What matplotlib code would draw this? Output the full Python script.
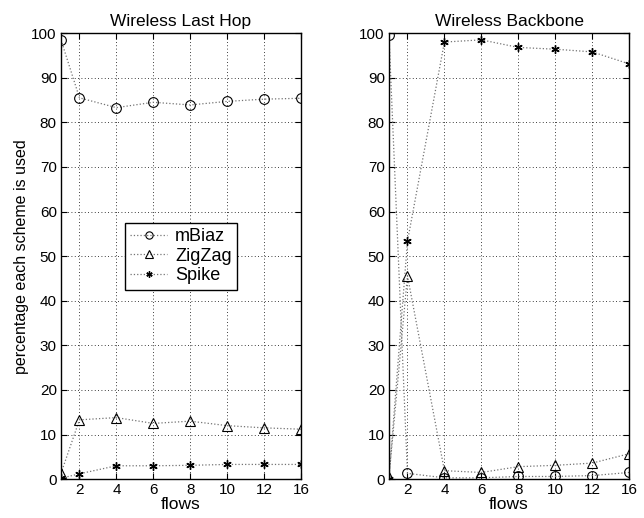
import matplotlib
matplotlib.use("Agg")
import matplotlib.pyplot as plt

plt.rcParams['font.family'] = ['Liberation Sans', 'DejaVu Sans']

# data
flows = [1, 2, 4, 6, 8, 10, 12, 16]
xpos = [1, 2, 4, 6, 8, 10, 12, 14]   # 16 is drawn where 14 would be
tick_pos = [2, 4, 6, 8, 10, 12, 14]
tick_labels = ['2', '4', '6', '8', '10', '12', '16']

lasthop_mbiaz = [98.5, 85.5, 83.3, 84.5, 83.9, 84.7, 85.2, 85.4]
lasthop_zigzag = [1.3, 13.3, 13.8, 12.5, 13.0, 12.0, 11.5, 11.2]
lasthop_spike = [0.2, 1.2, 3.0, 3.0, 3.1, 3.3, 3.3, 3.3]

backbone_mbiaz = [99.5, 1.3, 0.3, 0.3, 0.6, 0.6, 0.8, 1.5]
backbone_zigzag = [0.4, 45.6, 1.9, 1.5, 2.8, 3.1, 3.6, 5.7]
backbone_spike = [0.1, 53.3, 98.0, 98.5, 96.8, 96.4, 95.8, 93.1]

fig = plt.figure(figsize=(6.44, 5.18), dpi=100, facecolor='w')
ax1 = fig.add_axes([0.0947, 0.075, 0.3727, 0.861])
ax2 = fig.add_axes([0.604, 0.075, 0.373, 0.861])

def draw(ax, mb, zz, sp, title):
    ax.plot(xpos, mb, color='0.45', linestyle=':', linewidth=0.9,
            marker='o', markersize=7, markerfacecolor='none', markeredgecolor='k',
            markeredgewidth=0.8, label='mBiaz')
    ax.plot(xpos, zz, color='0.45', linestyle=':', linewidth=0.9,
            marker='^', markersize=7, markerfacecolor='none', markeredgecolor='k',
            markeredgewidth=0.8, label='ZigZag')
    ax.plot(xpos, sp, color='0.45', linestyle=':', linewidth=0.9,
            marker=(6, 2, 0), markersize=6, markeredgecolor='k',
            markeredgewidth=1.0, label='Spike')
    ax.set_xlim(1, 14)
    ax.set_ylim(0, 100)
    ax.set_xticks(tick_pos)
    ax.set_xticklabels(tick_labels)
    ax.set_yticks(range(0, 101, 10))
    ax.grid(True, color='k', linestyle=(0, (1, 3)), linewidth=0.6)
    ax.tick_params(direction='in', top=True, right=True, labelsize=11, length=4, pad=3)
    for s in ax.spines.values():
        s.set_linewidth(1.0)
    ax.set_title(title, fontsize=12.5, pad=5)
    ax.set_xlabel('flows', fontsize=12.5, labelpad=0)

draw(ax1, lasthop_mbiaz, lasthop_zigzag, lasthop_spike, 'Wireless Last Hop')
draw(ax2, backbone_mbiaz, backbone_zigzag, backbone_spike, 'Wireless Backbone')

ax1.set_ylabel('percentage each scheme is used', fontsize=11.5, labelpad=2)
leg = ax1.legend(loc='center', bbox_to_anchor=(0.5, 0.5), fontsize=13,
                 fancybox=False, framealpha=1, edgecolor='k', borderpad=0.3,
                 labelspacing=0.15, handlelength=2.05, handletextpad=0.45,
                 markerscale=0.75, borderaxespad=0)
leg.get_frame().set_linewidth(1.0)

plt.savefig('out.png', dpi=100)
